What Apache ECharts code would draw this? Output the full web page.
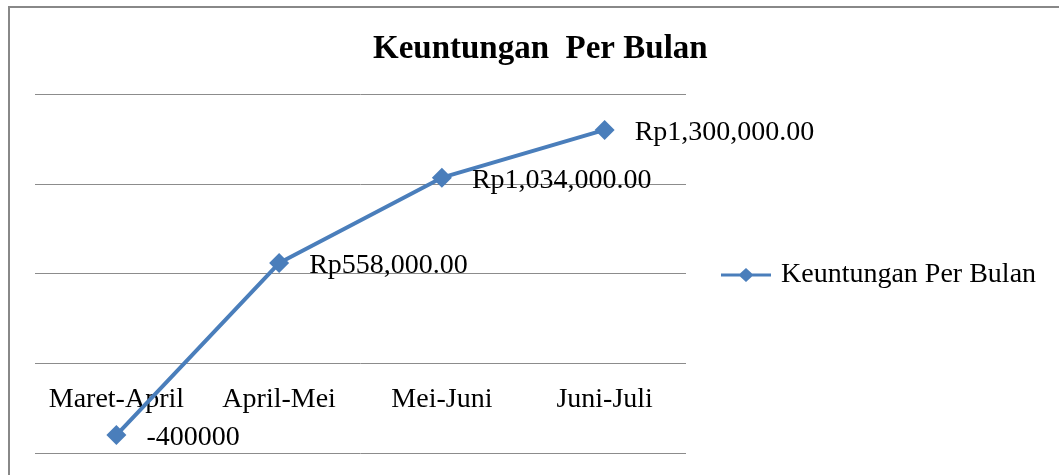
<!DOCTYPE html>
<html>
<head>
<meta charset="utf-8">
<script src="https://cdn.jsdelivr.net/npm/echarts@6/dist/echarts.min.js"></script>
<style>html,body{margin:0;padding:0;background:#fff;}#c{width:1059px;height:475px;}</style>
</head>
<body>
<div id="c"></div>
<script>
const categories = ['Maret-April', 'April-Mei', 'Mei-Juni', 'Juni-Juli'];
const values = [-400000, 558000, 1034000, 1300000];
const valueLabels = ['-400000', 'Rp558,000.00', 'Rp1,034,000.00', 'Rp1,300,000.00'];
const seriesName = 'Keuntungan Per Bulan';
const titleText = 'Keuntungan  Per Bulan';

const font = "'Liberation Serif', 'Times New Roman', serif";
const chart = echarts.init(document.getElementById('c'), null, {renderer: 'canvas'});
chart.setOption({
  animation: false,
  backgroundColor: '#fff',
  textStyle: {fontFamily: font},
  title: {
    text: titleText,
    left: 373, top: 33, padding: 0,
    textStyle: {fontFamily: font, fontSize: 33, fontWeight: 'bold', color: '#000'}
  },
  graphic: [{
    type: 'rect', silent: true, z: -1,
    shape: {x: 9, y: 7, width: 1200, height: 600},
    style: {fill: 'none', stroke: '#888', lineWidth: 2}
  }],
  legend: {
    data: [{name: seriesName, icon: 'path://M0,5.5H19L25,0L31,5.5H50V8.5H31L25,14L19,8.5H0Z'}],
    left: 721, top: 261, padding: 0,
    itemWidth: 50, itemHeight: 14,
    itemStyle: {color: '#4a7ebb'},
    textStyle: {fontFamily: font, fontSize: 28, color: '#000', padding: [0, 0, 0, 5]}
  },
  grid: {left: 35, right: 373, top: 94, bottom: 22, containLabel: false, outerBoundsMode: 'none'},
  xAxis: {
    type: 'category',
    data: categories,
    boundaryGap: true,
    axisLine: {show: false, onZero: false},
    axisTick: {show: false},
    axisLabel: {fontFamily: font, fontSize: 28, color: '#000', margin: -67, interval: 0}
  },
  yAxis: {
    type: 'value',
    min: -500000, max: 1500000, interval: 500000,
    axisLabel: {show: false},
    axisLine: {show: false},
    axisTick: {show: false},
    splitLine: {lineStyle: {color: '#8c8c8c', width: 1}}
  },
  series: [{
    name: seriesName,
    type: 'line',
    data: values,
    symbol: 'diamond',
    symbolSize: 20,
    itemStyle: {color: '#4a7ebb'},
    lineStyle: {color: '#4a7ebb', width: 4},
    label: {
      show: true, position: 'right', distance: 20, offset: [0, 3],
      fontFamily: font, fontSize: 28, color: '#000',
      formatter: p => valueLabels[p.dataIndex]
    }
  }]
});
</script>
</body>
</html>
